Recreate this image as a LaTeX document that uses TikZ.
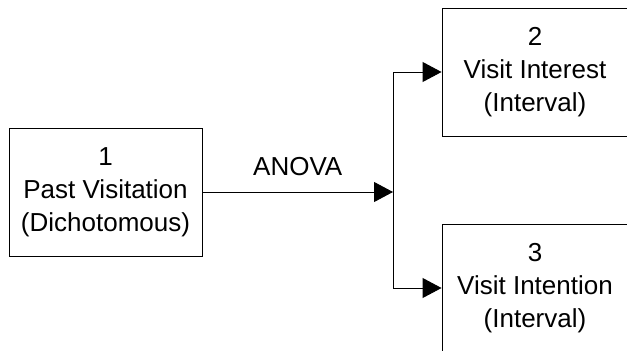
\documentclass[tikz,border=0pt]{standalone}
\usepackage{fontspec}
\setmainfont{Liberation Sans}
\usetikzlibrary{arrows.meta}
\begin{document}
\begin{tikzpicture}[x=1pt,y=-1pt,
  varbox/.style={draw, line width=0.9pt, minimum width=#1, minimum height=128pt, inner sep=0pt,
    align=center, font=\fontsize{26}{33}\selectfont},
  conn/.style={line width=0.9pt, -{Triangle[length=19pt,width=20pt]}}]
\useasboundingbox (0,0) rectangle (627,351);
\clip (0,0) rectangle (627,351);
\node[varbox=193pt] (b1) at (105.5,192) {1\\Past Visitation\\(Dichotomous)};
\node[varbox=186pt] (b2) at (535,72) {2\\Visit Interest\\(Interval)};
\node[varbox=186pt] (b3) at (535,288) {3\\Visit Intention\\(Interval)};
\coordinate (j) at (393,192);
\draw[conn] (b1.east) -- node[above=12pt, font=\fontsize{26}{33}\selectfont] (lab) {ANOVA} (j);
\draw[conn] (j) |- (b2.west);
\draw[conn] (j) |- (b3.west);
\end{tikzpicture}
\end{document}
